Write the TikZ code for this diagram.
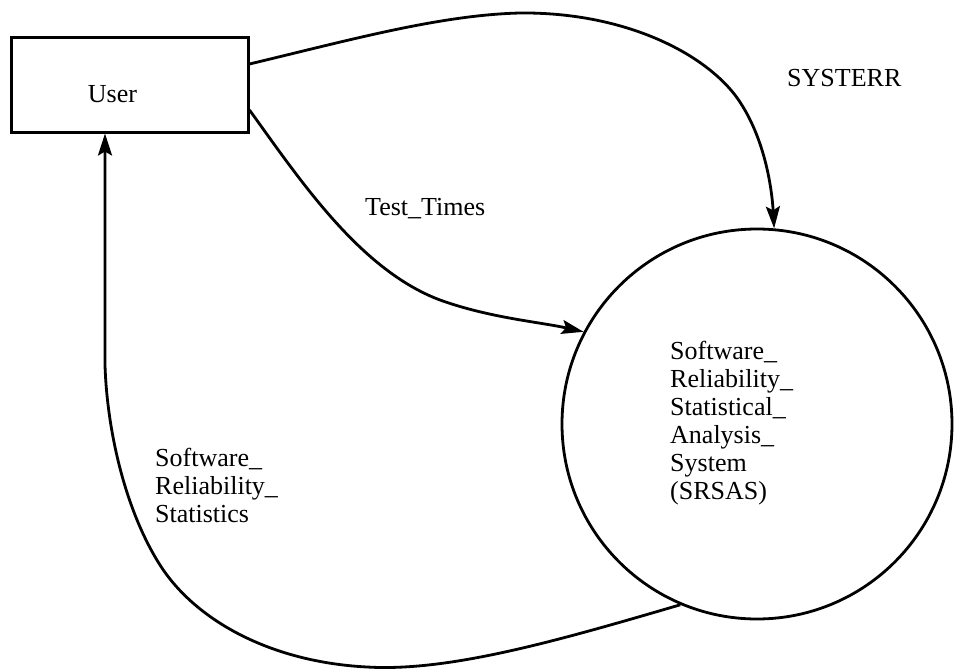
\documentclass[tikz,border=0pt]{standalone}
\usepackage{fontspec}
\setmainfont{Liberation Serif}
\usetikzlibrary{arrows.meta}
\begin{document}
\begin{tikzpicture}[x=1pt,y=-1pt,
  flow/.style={line width=2.8pt,-{Stealth[length=22pt,width=14pt,inset=4pt]}},
  lbl/.style={inner sep=0pt,font=\fontsize{26}{28}\selectfont},
  txt/.style={lbl,anchor=base west,align=left}]
  \useasboundingbox (0,0) rectangle (954,669);
  % external entity and process
  \node[draw,line width=3pt,minimum width=237pt,minimum height=94pt,inner sep=0pt] (user) at (129.5,85) {};
  \node[lbl] (userlbl) at (112.5,94) {User};
  \node[draw,circle,line width=2.8pt,minimum size=390pt,inner sep=0pt] (srsas) at (757,424) {};
  % multi-line labels are placed by the baseline of their last line
  \node[txt] (srsaslbl) at (670,499) {Software\_\\Reliability\_\\Statistical\_\\Analysis\_\\System\\(SRSAS)};
  % data flows
  \draw[flow] ([yshift=21pt]user.east) .. controls (350,40) and (440,15) .. (520,13)
     .. controls (620,12) and (700,50) .. (735,95)
     .. controls (765,135) and (772,190) .. (srsas.85);
  \draw[flow] ([yshift=-25pt]user.east) .. controls (300,180) and (360,270) .. (440,300)
     .. controls (490,318) and (540,322) .. (srsas.152);
  \draw[flow] (srsas.247) .. controls (560,640) and (450,672) .. (367,667)
     .. controls (270,662) and (195,620) .. (160,565)
     .. controls (125,510) and (107,430) .. (105,365) -- ([xshift=-24.5pt]user.south);
  % flow labels
  \node[txt] (systerr) at (787,87) {SYSTERR};
  \node[txt] (testtimes) at (365,215) {Test\_Times};
  \node[txt] (statslbl) at (155,522) {Software\_\\Reliability\_\\Statistics};
\end{tikzpicture}
\end{document}
